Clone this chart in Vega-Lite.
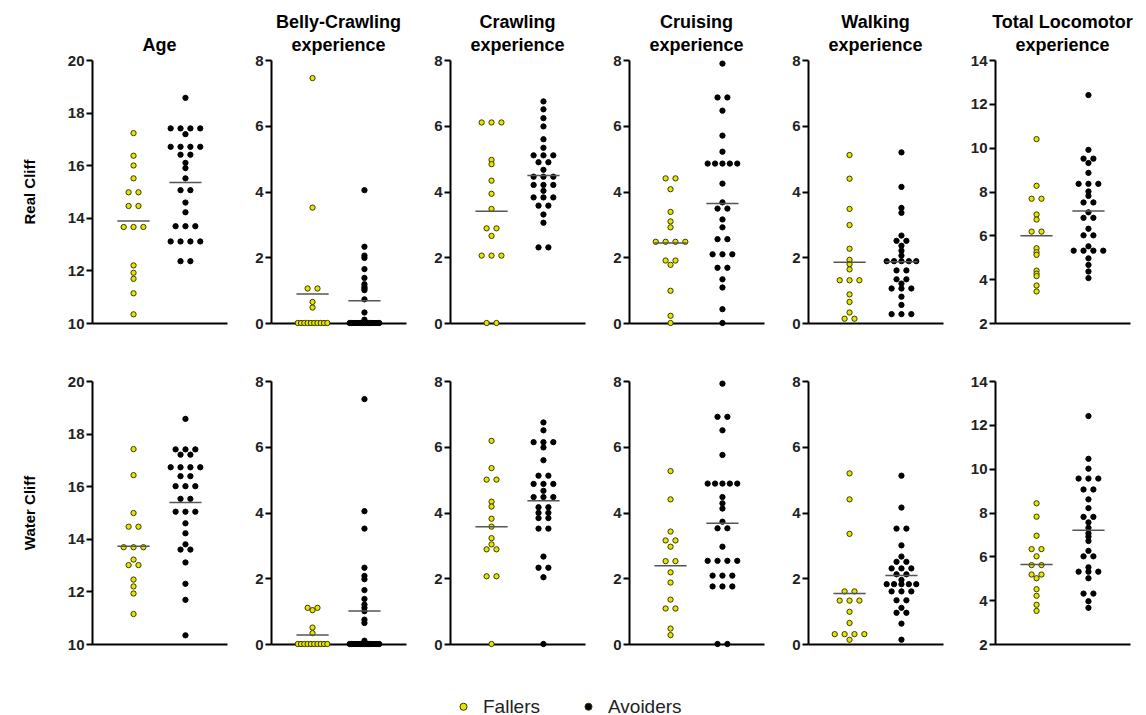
{
"$schema":"https://vega.github.io/schema/vega-lite/v6.json",
"padding":{"left":22,"top":14,"right":10,"bottom":5},
"datasets":{"obs":[
{"cliff":"Real","measure":"Age","group":"Fallers","value":17.22},
{"cliff":"Real","measure":"Age","group":"Fallers","value":16.36},
{"cliff":"Real","measure":"Age","group":"Fallers","value":15.99},
{"cliff":"Real","measure":"Age","group":"Fallers","value":15.5},
{"cliff":"Real","measure":"Age","group":"Fallers","value":14.97},
{"cliff":"Real","measure":"Age","group":"Fallers","value":14.97},
{"cliff":"Real","measure":"Age","group":"Fallers","value":14.45},
{"cliff":"Real","measure":"Age","group":"Fallers","value":14.45},
{"cliff":"Real","measure":"Age","group":"Fallers","value":13.65},
{"cliff":"Real","measure":"Age","group":"Fallers","value":13.65},
{"cliff":"Real","measure":"Age","group":"Fallers","value":13.65},
{"cliff":"Real","measure":"Age","group":"Fallers","value":12.19},
{"cliff":"Real","measure":"Age","group":"Fallers","value":11.91},
{"cliff":"Real","measure":"Age","group":"Fallers","value":11.68},
{"cliff":"Real","measure":"Age","group":"Fallers","value":11.13},
{"cliff":"Real","measure":"Age","group":"Fallers","value":10.33},
{"cliff":"Real","measure":"Age","group":"Avoiders","value":18.56},
{"cliff":"Real","measure":"Age","group":"Avoiders","value":17.4},
{"cliff":"Real","measure":"Age","group":"Avoiders","value":17.4},
{"cliff":"Real","measure":"Age","group":"Avoiders","value":17.4},
{"cliff":"Real","measure":"Age","group":"Avoiders","value":17.4},
{"cliff":"Real","measure":"Age","group":"Avoiders","value":17.18},
{"cliff":"Real","measure":"Age","group":"Avoiders","value":16.7},
{"cliff":"Real","measure":"Age","group":"Avoiders","value":16.7},
{"cliff":"Real","measure":"Age","group":"Avoiders","value":16.7},
{"cliff":"Real","measure":"Age","group":"Avoiders","value":16.7},
{"cliff":"Real","measure":"Age","group":"Avoiders","value":16.4},
{"cliff":"Real","measure":"Age","group":"Avoiders","value":16.4},
{"cliff":"Real","measure":"Age","group":"Avoiders","value":16.09},
{"cliff":"Real","measure":"Age","group":"Avoiders","value":15.89},
{"cliff":"Real","measure":"Age","group":"Avoiders","value":15.5},
{"cliff":"Real","measure":"Age","group":"Avoiders","value":15.05},
{"cliff":"Real","measure":"Age","group":"Avoiders","value":15.05},
{"cliff":"Real","measure":"Age","group":"Avoiders","value":14.58},
{"cliff":"Real","measure":"Age","group":"Avoiders","value":14.21},
{"cliff":"Real","measure":"Age","group":"Avoiders","value":13.68},
{"cliff":"Real","measure":"Age","group":"Avoiders","value":13.68},
{"cliff":"Real","measure":"Age","group":"Avoiders","value":13.68},
{"cliff":"Real","measure":"Age","group":"Avoiders","value":13.1},
{"cliff":"Real","measure":"Age","group":"Avoiders","value":13.1},
{"cliff":"Real","measure":"Age","group":"Avoiders","value":13.1},
{"cliff":"Real","measure":"Age","group":"Avoiders","value":13.1},
{"cliff":"Real","measure":"Age","group":"Avoiders","value":12.35},
{"cliff":"Real","measure":"Age","group":"Avoiders","value":12.35},
{"cliff":"Real","measure":"Belly","group":"Fallers","value":7.45},
{"cliff":"Real","measure":"Belly","group":"Fallers","value":3.51},
{"cliff":"Real","measure":"Belly","group":"Fallers","value":1.05},
{"cliff":"Real","measure":"Belly","group":"Fallers","value":1.05},
{"cliff":"Real","measure":"Belly","group":"Fallers","value":0.64},
{"cliff":"Real","measure":"Belly","group":"Fallers","value":0.47},
{"cliff":"Real","measure":"Belly","group":"Fallers","value":0},
{"cliff":"Real","measure":"Belly","group":"Fallers","value":0},
{"cliff":"Real","measure":"Belly","group":"Fallers","value":0},
{"cliff":"Real","measure":"Belly","group":"Fallers","value":0},
{"cliff":"Real","measure":"Belly","group":"Fallers","value":0},
{"cliff":"Real","measure":"Belly","group":"Fallers","value":0},
{"cliff":"Real","measure":"Belly","group":"Fallers","value":0},
{"cliff":"Real","measure":"Belly","group":"Fallers","value":0},
{"cliff":"Real","measure":"Belly","group":"Fallers","value":0},
{"cliff":"Real","measure":"Belly","group":"Fallers","value":0},
{"cliff":"Real","measure":"Belly","group":"Avoiders","value":4.04},
{"cliff":"Real","measure":"Belly","group":"Avoiders","value":2.32},
{"cliff":"Real","measure":"Belly","group":"Avoiders","value":2.05},
{"cliff":"Real","measure":"Belly","group":"Avoiders","value":1.98},
{"cliff":"Real","measure":"Belly","group":"Avoiders","value":1.64},
{"cliff":"Real","measure":"Belly","group":"Avoiders","value":1.37},
{"cliff":"Real","measure":"Belly","group":"Avoiders","value":1.18},
{"cliff":"Real","measure":"Belly","group":"Avoiders","value":1.1},
{"cliff":"Real","measure":"Belly","group":"Avoiders","value":1.05},
{"cliff":"Real","measure":"Belly","group":"Avoiders","value":1.0},
{"cliff":"Real","measure":"Belly","group":"Avoiders","value":0.72},
{"cliff":"Real","measure":"Belly","group":"Avoiders","value":0.32},
{"cliff":"Real","measure":"Belly","group":"Avoiders","value":0.1},
{"cliff":"Real","measure":"Belly","group":"Avoiders","value":0},
{"cliff":"Real","measure":"Belly","group":"Avoiders","value":0},
{"cliff":"Real","measure":"Belly","group":"Avoiders","value":0},
{"cliff":"Real","measure":"Belly","group":"Avoiders","value":0},
{"cliff":"Real","measure":"Belly","group":"Avoiders","value":0},
{"cliff":"Real","measure":"Belly","group":"Avoiders","value":0},
{"cliff":"Real","measure":"Belly","group":"Avoiders","value":0},
{"cliff":"Real","measure":"Belly","group":"Avoiders","value":0},
{"cliff":"Real","measure":"Belly","group":"Avoiders","value":0},
{"cliff":"Real","measure":"Belly","group":"Avoiders","value":0},
{"cliff":"Real","measure":"Belly","group":"Avoiders","value":0},
{"cliff":"Real","measure":"Belly","group":"Avoiders","value":0},
{"cliff":"Real","measure":"Belly","group":"Avoiders","value":0},
{"cliff":"Real","measure":"Belly","group":"Avoiders","value":0},
{"cliff":"Real","measure":"Belly","group":"Avoiders","value":0},
{"cliff":"Real","measure":"Crawling","group":"Fallers","value":6.1},
{"cliff":"Real","measure":"Crawling","group":"Fallers","value":6.1},
{"cliff":"Real","measure":"Crawling","group":"Fallers","value":6.1},
{"cliff":"Real","measure":"Crawling","group":"Fallers","value":4.96},
{"cliff":"Real","measure":"Crawling","group":"Fallers","value":4.83},
{"cliff":"Real","measure":"Crawling","group":"Fallers","value":4.33},
{"cliff":"Real","measure":"Crawling","group":"Fallers","value":3.93},
{"cliff":"Real","measure":"Crawling","group":"Fallers","value":3.47},
{"cliff":"Real","measure":"Crawling","group":"Fallers","value":2.88},
{"cliff":"Real","measure":"Crawling","group":"Fallers","value":2.88},
{"cliff":"Real","measure":"Crawling","group":"Fallers","value":2.65},
{"cliff":"Real","measure":"Crawling","group":"Fallers","value":2.05},
{"cliff":"Real","measure":"Crawling","group":"Fallers","value":2.05},
{"cliff":"Real","measure":"Crawling","group":"Fallers","value":2.05},
{"cliff":"Real","measure":"Crawling","group":"Fallers","value":0},
{"cliff":"Real","measure":"Crawling","group":"Fallers","value":0},
{"cliff":"Real","measure":"Crawling","group":"Avoiders","value":6.74},
{"cliff":"Real","measure":"Crawling","group":"Avoiders","value":6.5},
{"cliff":"Real","measure":"Crawling","group":"Avoiders","value":6.23},
{"cliff":"Real","measure":"Crawling","group":"Avoiders","value":5.98},
{"cliff":"Real","measure":"Crawling","group":"Avoiders","value":5.59},
{"cliff":"Real","measure":"Crawling","group":"Avoiders","value":5.33},
{"cliff":"Real","measure":"Crawling","group":"Avoiders","value":5.1},
{"cliff":"Real","measure":"Crawling","group":"Avoiders","value":5.1},
{"cliff":"Real","measure":"Crawling","group":"Avoiders","value":5.1},
{"cliff":"Real","measure":"Crawling","group":"Avoiders","value":4.89},
{"cliff":"Real","measure":"Crawling","group":"Avoiders","value":4.89},
{"cliff":"Real","measure":"Crawling","group":"Avoiders","value":4.66},
{"cliff":"Real","measure":"Crawling","group":"Avoiders","value":4.45},
{"cliff":"Real","measure":"Crawling","group":"Avoiders","value":4.45},
{"cliff":"Real","measure":"Crawling","group":"Avoiders","value":4.45},
{"cliff":"Real","measure":"Crawling","group":"Avoiders","value":4.2},
{"cliff":"Real","measure":"Crawling","group":"Avoiders","value":4.2},
{"cliff":"Real","measure":"Crawling","group":"Avoiders","value":4.2},
{"cliff":"Real","measure":"Crawling","group":"Avoiders","value":4.02},
{"cliff":"Real","measure":"Crawling","group":"Avoiders","value":3.82},
{"cliff":"Real","measure":"Crawling","group":"Avoiders","value":3.82},
{"cliff":"Real","measure":"Crawling","group":"Avoiders","value":3.82},
{"cliff":"Real","measure":"Crawling","group":"Avoiders","value":3.57},
{"cliff":"Real","measure":"Crawling","group":"Avoiders","value":3.57},
{"cliff":"Real","measure":"Crawling","group":"Avoiders","value":3.3},
{"cliff":"Real","measure":"Crawling","group":"Avoiders","value":3.05},
{"cliff":"Real","measure":"Crawling","group":"Avoiders","value":2.3},
{"cliff":"Real","measure":"Crawling","group":"Avoiders","value":2.3},
{"cliff":"Real","measure":"Cruising","group":"Fallers","value":4.4},
{"cliff":"Real","measure":"Cruising","group":"Fallers","value":4.4},
{"cliff":"Real","measure":"Cruising","group":"Fallers","value":4.07},
{"cliff":"Real","measure":"Cruising","group":"Fallers","value":3.38},
{"cliff":"Real","measure":"Cruising","group":"Fallers","value":3.09},
{"cliff":"Real","measure":"Cruising","group":"Fallers","value":2.91},
{"cliff":"Real","measure":"Cruising","group":"Fallers","value":2.47},
{"cliff":"Real","measure":"Cruising","group":"Fallers","value":2.47},
{"cliff":"Real","measure":"Cruising","group":"Fallers","value":2.47},
{"cliff":"Real","measure":"Cruising","group":"Fallers","value":2.47},
{"cliff":"Real","measure":"Cruising","group":"Fallers","value":1.9},
{"cliff":"Real","measure":"Cruising","group":"Fallers","value":1.9},
{"cliff":"Real","measure":"Cruising","group":"Fallers","value":1.77},
{"cliff":"Real","measure":"Cruising","group":"Fallers","value":0.98},
{"cliff":"Real","measure":"Cruising","group":"Fallers","value":0.22},
{"cliff":"Real","measure":"Cruising","group":"Fallers","value":0},
{"cliff":"Real","measure":"Cruising","group":"Avoiders","value":7.89},
{"cliff":"Real","measure":"Cruising","group":"Avoiders","value":6.86},
{"cliff":"Real","measure":"Cruising","group":"Avoiders","value":6.86},
{"cliff":"Real","measure":"Cruising","group":"Avoiders","value":6.46},
{"cliff":"Real","measure":"Cruising","group":"Avoiders","value":5.7},
{"cliff":"Real","measure":"Cruising","group":"Avoiders","value":5.21},
{"cliff":"Real","measure":"Cruising","group":"Avoiders","value":4.85},
{"cliff":"Real","measure":"Cruising","group":"Avoiders","value":4.85},
{"cliff":"Real","measure":"Cruising","group":"Avoiders","value":4.85},
{"cliff":"Real","measure":"Cruising","group":"Avoiders","value":4.85},
{"cliff":"Real","measure":"Cruising","group":"Avoiders","value":4.85},
{"cliff":"Real","measure":"Cruising","group":"Avoiders","value":4.24},
{"cliff":"Real","measure":"Cruising","group":"Avoiders","value":3.67},
{"cliff":"Real","measure":"Cruising","group":"Avoiders","value":3.48},
{"cliff":"Real","measure":"Cruising","group":"Avoiders","value":3.48},
{"cliff":"Real","measure":"Cruising","group":"Avoiders","value":3.15},
{"cliff":"Real","measure":"Cruising","group":"Avoiders","value":2.91},
{"cliff":"Real","measure":"Cruising","group":"Avoiders","value":2.55},
{"cliff":"Real","measure":"Cruising","group":"Avoiders","value":2.55},
{"cliff":"Real","measure":"Cruising","group":"Avoiders","value":2.09},
{"cliff":"Real","measure":"Cruising","group":"Avoiders","value":2.09},
{"cliff":"Real","measure":"Cruising","group":"Avoiders","value":2.09},
{"cliff":"Real","measure":"Cruising","group":"Avoiders","value":1.68},
{"cliff":"Real","measure":"Cruising","group":"Avoiders","value":1.68},
{"cliff":"Real","measure":"Cruising","group":"Avoiders","value":1.33},
{"cliff":"Real","measure":"Cruising","group":"Avoiders","value":1.08},
{"cliff":"Real","measure":"Cruising","group":"Avoiders","value":0.42},
{"cliff":"Real","measure":"Cruising","group":"Avoiders","value":0},
{"cliff":"Real","measure":"Walking","group":"Fallers","value":5.11},
{"cliff":"Real","measure":"Walking","group":"Fallers","value":4.39},
{"cliff":"Real","measure":"Walking","group":"Fallers","value":3.47},
{"cliff":"Real","measure":"Walking","group":"Fallers","value":2.98},
{"cliff":"Real","measure":"Walking","group":"Fallers","value":2.26},
{"cliff":"Real","measure":"Walking","group":"Fallers","value":1.92},
{"cliff":"Real","measure":"Walking","group":"Fallers","value":1.79},
{"cliff":"Real","measure":"Walking","group":"Fallers","value":1.63},
{"cliff":"Real","measure":"Walking","group":"Fallers","value":1.3},
{"cliff":"Real","measure":"Walking","group":"Fallers","value":1.3},
{"cliff":"Real","measure":"Walking","group":"Fallers","value":1.3},
{"cliff":"Real","measure":"Walking","group":"Fallers","value":0.87},
{"cliff":"Real","measure":"Walking","group":"Fallers","value":0.64},
{"cliff":"Real","measure":"Walking","group":"Fallers","value":0.32},
{"cliff":"Real","measure":"Walking","group":"Fallers","value":0.13},
{"cliff":"Real","measure":"Walking","group":"Fallers","value":0.13},
{"cliff":"Real","measure":"Walking","group":"Avoiders","value":5.19},
{"cliff":"Real","measure":"Walking","group":"Avoiders","value":4.14},
{"cliff":"Real","measure":"Walking","group":"Avoiders","value":3.5},
{"cliff":"Real","measure":"Walking","group":"Avoiders","value":3.35},
{"cliff":"Real","measure":"Walking","group":"Avoiders","value":2.66},
{"cliff":"Real","measure":"Walking","group":"Avoiders","value":2.5},
{"cliff":"Real","measure":"Walking","group":"Avoiders","value":2.5},
{"cliff":"Real","measure":"Walking","group":"Avoiders","value":2.35},
{"cliff":"Real","measure":"Walking","group":"Avoiders","value":2.2},
{"cliff":"Real","measure":"Walking","group":"Avoiders","value":2.05},
{"cliff":"Real","measure":"Walking","group":"Avoiders","value":1.88},
{"cliff":"Real","measure":"Walking","group":"Avoiders","value":1.88},
{"cliff":"Real","measure":"Walking","group":"Avoiders","value":1.88},
{"cliff":"Real","measure":"Walking","group":"Avoiders","value":1.88},
{"cliff":"Real","measure":"Walking","group":"Avoiders","value":1.88},
{"cliff":"Real","measure":"Walking","group":"Avoiders","value":1.6},
{"cliff":"Real","measure":"Walking","group":"Avoiders","value":1.6},
{"cliff":"Real","measure":"Walking","group":"Avoiders","value":1.33},
{"cliff":"Real","measure":"Walking","group":"Avoiders","value":1.33},
{"cliff":"Real","measure":"Walking","group":"Avoiders","value":1.2},
{"cliff":"Real","measure":"Walking","group":"Avoiders","value":1.05},
{"cliff":"Real","measure":"Walking","group":"Avoiders","value":1.05},
{"cliff":"Real","measure":"Walking","group":"Avoiders","value":1.05},
{"cliff":"Real","measure":"Walking","group":"Avoiders","value":0.8},
{"cliff":"Real","measure":"Walking","group":"Avoiders","value":0.55},
{"cliff":"Real","measure":"Walking","group":"Avoiders","value":0.27},
{"cliff":"Real","measure":"Walking","group":"Avoiders","value":0.27},
{"cliff":"Real","measure":"Walking","group":"Avoiders","value":0.27},
{"cliff":"Real","measure":"Total","group":"Fallers","value":10.39},
{"cliff":"Real","measure":"Total","group":"Fallers","value":8.26},
{"cliff":"Real","measure":"Total","group":"Fallers","value":7.67},
{"cliff":"Real","measure":"Total","group":"Fallers","value":7.67},
{"cliff":"Real","measure":"Total","group":"Fallers","value":6.95},
{"cliff":"Real","measure":"Total","group":"Fallers","value":6.72},
{"cliff":"Real","measure":"Total","group":"Fallers","value":6.17},
{"cliff":"Real","measure":"Total","group":"Fallers","value":6.17},
{"cliff":"Real","measure":"Total","group":"Fallers","value":5.41},
{"cliff":"Real","measure":"Total","group":"Fallers","value":5.23},
{"cliff":"Real","measure":"Total","group":"Fallers","value":5.11},
{"cliff":"Real","measure":"Total","group":"Fallers","value":4.39},
{"cliff":"Real","measure":"Total","group":"Fallers","value":4.25},
{"cliff":"Real","measure":"Total","group":"Fallers","value":4.14},
{"cliff":"Real","measure":"Total","group":"Fallers","value":3.71},
{"cliff":"Real","measure":"Total","group":"Fallers","value":3.44},
{"cliff":"Real","measure":"Total","group":"Avoiders","value":12.4},
{"cliff":"Real","measure":"Total","group":"Avoiders","value":9.9},
{"cliff":"Real","measure":"Total","group":"Avoiders","value":9.5},
{"cliff":"Real","measure":"Total","group":"Avoiders","value":9.5},
{"cliff":"Real","measure":"Total","group":"Avoiders","value":9.3},
{"cliff":"Real","measure":"Total","group":"Avoiders","value":8.85},
{"cliff":"Real","measure":"Total","group":"Avoiders","value":8.35},
{"cliff":"Real","measure":"Total","group":"Avoiders","value":8.35},
{"cliff":"Real","measure":"Total","group":"Avoiders","value":8.35},
{"cliff":"Real","measure":"Total","group":"Avoiders","value":8.0},
{"cliff":"Real","measure":"Total","group":"Avoiders","value":7.8},
{"cliff":"Real","measure":"Total","group":"Avoiders","value":7.5},
{"cliff":"Real","measure":"Total","group":"Avoiders","value":7.5},
{"cliff":"Real","measure":"Total","group":"Avoiders","value":7.05},
{"cliff":"Real","measure":"Total","group":"Avoiders","value":6.8},
{"cliff":"Real","measure":"Total","group":"Avoiders","value":6.8},
{"cliff":"Real","measure":"Total","group":"Avoiders","value":6.3},
{"cliff":"Real","measure":"Total","group":"Avoiders","value":6.0},
{"cliff":"Real","measure":"Total","group":"Avoiders","value":6.0},
{"cliff":"Real","measure":"Total","group":"Avoiders","value":5.5},
{"cliff":"Real","measure":"Total","group":"Avoiders","value":5.3},
{"cliff":"Real","measure":"Total","group":"Avoiders","value":5.3},
{"cliff":"Real","measure":"Total","group":"Avoiders","value":5.3},
{"cliff":"Real","measure":"Total","group":"Avoiders","value":5.3},
{"cliff":"Real","measure":"Total","group":"Avoiders","value":4.95},
{"cliff":"Real","measure":"Total","group":"Avoiders","value":4.65},
{"cliff":"Real","measure":"Total","group":"Avoiders","value":4.35},
{"cliff":"Real","measure":"Total","group":"Avoiders","value":4.05},
{"cliff":"Water","measure":"Age","group":"Fallers","value":17.41},
{"cliff":"Water","measure":"Age","group":"Fallers","value":16.42},
{"cliff":"Water","measure":"Age","group":"Fallers","value":14.98},
{"cliff":"Water","measure":"Age","group":"Fallers","value":14.46},
{"cliff":"Water","measure":"Age","group":"Fallers","value":14.46},
{"cliff":"Water","measure":"Age","group":"Fallers","value":13.68},
{"cliff":"Water","measure":"Age","group":"Fallers","value":13.68},
{"cliff":"Water","measure":"Age","group":"Fallers","value":13.68},
{"cliff":"Water","measure":"Age","group":"Fallers","value":13.21},
{"cliff":"Water","measure":"Age","group":"Fallers","value":13.0},
{"cliff":"Water","measure":"Age","group":"Fallers","value":13.0},
{"cliff":"Water","measure":"Age","group":"Fallers","value":12.45},
{"cliff":"Water","measure":"Age","group":"Fallers","value":12.19},
{"cliff":"Water","measure":"Age","group":"Fallers","value":11.92},
{"cliff":"Water","measure":"Age","group":"Fallers","value":11.14},
{"cliff":"Water","measure":"Age","group":"Avoiders","value":18.56},
{"cliff":"Water","measure":"Age","group":"Avoiders","value":17.4},
{"cliff":"Water","measure":"Age","group":"Avoiders","value":17.4},
{"cliff":"Water","measure":"Age","group":"Avoiders","value":17.4},
{"cliff":"Water","measure":"Age","group":"Avoiders","value":17.2},
{"cliff":"Water","measure":"Age","group":"Avoiders","value":17.2},
{"cliff":"Water","measure":"Age","group":"Avoiders","value":16.72},
{"cliff":"Water","measure":"Age","group":"Avoiders","value":16.72},
{"cliff":"Water","measure":"Age","group":"Avoiders","value":16.72},
{"cliff":"Water","measure":"Age","group":"Avoiders","value":16.72},
{"cliff":"Water","measure":"Age","group":"Avoiders","value":16.38},
{"cliff":"Water","measure":"Age","group":"Avoiders","value":16.38},
{"cliff":"Water","measure":"Age","group":"Avoiders","value":16.0},
{"cliff":"Water","measure":"Age","group":"Avoiders","value":16.0},
{"cliff":"Water","measure":"Age","group":"Avoiders","value":16.0},
{"cliff":"Water","measure":"Age","group":"Avoiders","value":15.52},
{"cliff":"Water","measure":"Age","group":"Avoiders","value":15.52},
{"cliff":"Water","measure":"Age","group":"Avoiders","value":15.03},
{"cliff":"Water","measure":"Age","group":"Avoiders","value":15.03},
{"cliff":"Water","measure":"Age","group":"Avoiders","value":15.03},
{"cliff":"Water","measure":"Age","group":"Avoiders","value":14.59},
{"cliff":"Water","measure":"Age","group":"Avoiders","value":14.21},
{"cliff":"Water","measure":"Age","group":"Avoiders","value":13.79},
{"cliff":"Water","measure":"Age","group":"Avoiders","value":13.59},
{"cliff":"Water","measure":"Age","group":"Avoiders","value":13.59},
{"cliff":"Water","measure":"Age","group":"Avoiders","value":13.1},
{"cliff":"Water","measure":"Age","group":"Avoiders","value":12.29},
{"cliff":"Water","measure":"Age","group":"Avoiders","value":11.68},
{"cliff":"Water","measure":"Age","group":"Avoiders","value":10.33},
{"cliff":"Water","measure":"Belly","group":"Fallers","value":1.1},
{"cliff":"Water","measure":"Belly","group":"Fallers","value":1.1},
{"cliff":"Water","measure":"Belly","group":"Fallers","value":1.03},
{"cliff":"Water","measure":"Belly","group":"Fallers","value":0.5},
{"cliff":"Water","measure":"Belly","group":"Fallers","value":0.33},
{"cliff":"Water","measure":"Belly","group":"Fallers","value":0},
{"cliff":"Water","measure":"Belly","group":"Fallers","value":0},
{"cliff":"Water","measure":"Belly","group":"Fallers","value":0},
{"cliff":"Water","measure":"Belly","group":"Fallers","value":0},
{"cliff":"Water","measure":"Belly","group":"Fallers","value":0},
{"cliff":"Water","measure":"Belly","group":"Fallers","value":0},
{"cliff":"Water","measure":"Belly","group":"Fallers","value":0},
{"cliff":"Water","measure":"Belly","group":"Fallers","value":0},
{"cliff":"Water","measure":"Belly","group":"Fallers","value":0},
{"cliff":"Water","measure":"Belly","group":"Fallers","value":0},
{"cliff":"Water","measure":"Belly","group":"Avoiders","value":7.45},
{"cliff":"Water","measure":"Belly","group":"Avoiders","value":4.04},
{"cliff":"Water","measure":"Belly","group":"Avoiders","value":3.51},
{"cliff":"Water","measure":"Belly","group":"Avoiders","value":2.32},
{"cliff":"Water","measure":"Belly","group":"Avoiders","value":2.07},
{"cliff":"Water","measure":"Belly","group":"Avoiders","value":1.97},
{"cliff":"Water","measure":"Belly","group":"Avoiders","value":1.64},
{"cliff":"Water","measure":"Belly","group":"Avoiders","value":1.37},
{"cliff":"Water","measure":"Belly","group":"Avoiders","value":1.2},
{"cliff":"Water","measure":"Belly","group":"Avoiders","value":1.1},
{"cliff":"Water","measure":"Belly","group":"Avoiders","value":1.0},
{"cliff":"Water","measure":"Belly","group":"Avoiders","value":0.74},
{"cliff":"Water","measure":"Belly","group":"Avoiders","value":0.64},
{"cliff":"Water","measure":"Belly","group":"Avoiders","value":0.1},
{"cliff":"Water","measure":"Belly","group":"Avoiders","value":0},
{"cliff":"Water","measure":"Belly","group":"Avoiders","value":0},
{"cliff":"Water","measure":"Belly","group":"Avoiders","value":0},
{"cliff":"Water","measure":"Belly","group":"Avoiders","value":0},
{"cliff":"Water","measure":"Belly","group":"Avoiders","value":0},
{"cliff":"Water","measure":"Belly","group":"Avoiders","value":0},
{"cliff":"Water","measure":"Belly","group":"Avoiders","value":0},
{"cliff":"Water","measure":"Belly","group":"Avoiders","value":0},
{"cliff":"Water","measure":"Belly","group":"Avoiders","value":0},
{"cliff":"Water","measure":"Belly","group":"Avoiders","value":0},
{"cliff":"Water","measure":"Belly","group":"Avoiders","value":0},
{"cliff":"Water","measure":"Belly","group":"Avoiders","value":0},
{"cliff":"Water","measure":"Belly","group":"Avoiders","value":0},
{"cliff":"Water","measure":"Belly","group":"Avoiders","value":0},
{"cliff":"Water","measure":"Belly","group":"Avoiders","value":0},
{"cliff":"Water","measure":"Crawling","group":"Fallers","value":6.18},
{"cliff":"Water","measure":"Crawling","group":"Fallers","value":5.35},
{"cliff":"Water","measure":"Crawling","group":"Fallers","value":5.0},
{"cliff":"Water","measure":"Crawling","group":"Fallers","value":5.0},
{"cliff":"Water","measure":"Crawling","group":"Fallers","value":4.33},
{"cliff":"Water","measure":"Crawling","group":"Fallers","value":4.18},
{"cliff":"Water","measure":"Crawling","group":"Fallers","value":3.81},
{"cliff":"Water","measure":"Crawling","group":"Fallers","value":3.57},
{"cliff":"Water","measure":"Crawling","group":"Fallers","value":3.22},
{"cliff":"Water","measure":"Crawling","group":"Fallers","value":3.03},
{"cliff":"Water","measure":"Crawling","group":"Fallers","value":2.88},
{"cliff":"Water","measure":"Crawling","group":"Fallers","value":2.88},
{"cliff":"Water","measure":"Crawling","group":"Fallers","value":2.06},
{"cliff":"Water","measure":"Crawling","group":"Fallers","value":2.06},
{"cliff":"Water","measure":"Crawling","group":"Fallers","value":0},
{"cliff":"Water","measure":"Crawling","group":"Avoiders","value":6.74},
{"cliff":"Water","measure":"Crawling","group":"Avoiders","value":6.5},
{"cliff":"Water","measure":"Crawling","group":"Avoiders","value":6.14},
{"cliff":"Water","measure":"Crawling","group":"Avoiders","value":6.14},
{"cliff":"Water","measure":"Crawling","group":"Avoiders","value":6.14},
{"cliff":"Water","measure":"Crawling","group":"Avoiders","value":5.98},
{"cliff":"Water","measure":"Crawling","group":"Avoiders","value":5.59},
{"cliff":"Water","measure":"Crawling","group":"Avoiders","value":5.12},
{"cliff":"Water","measure":"Crawling","group":"Avoiders","value":5.12},
{"cliff":"Water","measure":"Crawling","group":"Avoiders","value":4.87},
{"cliff":"Water","measure":"Crawling","group":"Avoiders","value":4.87},
{"cliff":"Water","measure":"Crawling","group":"Avoiders","value":4.87},
{"cliff":"Water","measure":"Crawling","group":"Avoiders","value":4.66},
{"cliff":"Water","measure":"Crawling","group":"Avoiders","value":4.47},
{"cliff":"Water","measure":"Crawling","group":"Avoiders","value":4.47},
{"cliff":"Water","measure":"Crawling","group":"Avoiders","value":4.47},
{"cliff":"Water","measure":"Crawling","group":"Avoiders","value":4.16},
{"cliff":"Water","measure":"Crawling","group":"Avoiders","value":4.16},
{"cliff":"Water","measure":"Crawling","group":"Avoiders","value":3.99},
{"cliff":"Water","measure":"Crawling","group":"Avoiders","value":3.99},
{"cliff":"Water","measure":"Crawling","group":"Avoiders","value":3.83},
{"cliff":"Water","measure":"Crawling","group":"Avoiders","value":3.83},
{"cliff":"Water","measure":"Crawling","group":"Avoiders","value":3.51},
{"cliff":"Water","measure":"Crawling","group":"Avoiders","value":3.51},
{"cliff":"Water","measure":"Crawling","group":"Avoiders","value":2.66},
{"cliff":"Water","measure":"Crawling","group":"Avoiders","value":2.32},
{"cliff":"Water","measure":"Crawling","group":"Avoiders","value":2.32},
{"cliff":"Water","measure":"Crawling","group":"Avoiders","value":2.03},
{"cliff":"Water","measure":"Crawling","group":"Avoiders","value":0},
{"cliff":"Water","measure":"Cruising","group":"Fallers","value":5.26},
{"cliff":"Water","measure":"Cruising","group":"Fallers","value":4.4},
{"cliff":"Water","measure":"Cruising","group":"Fallers","value":3.42},
{"cliff":"Water","measure":"Cruising","group":"Fallers","value":3.15},
{"cliff":"Water","measure":"Cruising","group":"Fallers","value":3.15},
{"cliff":"Water","measure":"Cruising","group":"Fallers","value":2.96},
{"cliff":"Water","measure":"Cruising","group":"Fallers","value":2.52},
{"cliff":"Water","measure":"Cruising","group":"Fallers","value":2.52},
{"cliff":"Water","measure":"Cruising","group":"Fallers","value":2.18},
{"cliff":"Water","measure":"Cruising","group":"Fallers","value":1.87},
{"cliff":"Water","measure":"Cruising","group":"Fallers","value":1.35},
{"cliff":"Water","measure":"Cruising","group":"Fallers","value":1.08},
{"cliff":"Water","measure":"Cruising","group":"Fallers","value":1.08},
{"cliff":"Water","measure":"Cruising","group":"Fallers","value":0.47},
{"cliff":"Water","measure":"Cruising","group":"Fallers","value":0.27},
{"cliff":"Water","measure":"Cruising","group":"Avoiders","value":7.92},
{"cliff":"Water","measure":"Cruising","group":"Avoiders","value":6.91},
{"cliff":"Water","measure":"Cruising","group":"Avoiders","value":6.91},
{"cliff":"Water","measure":"Cruising","group":"Avoiders","value":6.5},
{"cliff":"Water","measure":"Cruising","group":"Avoiders","value":5.75},
{"cliff":"Water","measure":"Cruising","group":"Avoiders","value":4.88},
{"cliff":"Water","measure":"Cruising","group":"Avoiders","value":4.88},
{"cliff":"Water","measure":"Cruising","group":"Avoiders","value":4.88},
{"cliff":"Water","measure":"Cruising","group":"Avoiders","value":4.88},
{"cliff":"Water","measure":"Cruising","group":"Avoiders","value":4.88},
{"cliff":"Water","measure":"Cruising","group":"Avoiders","value":4.47},
{"cliff":"Water","measure":"Cruising","group":"Avoiders","value":4.28},
{"cliff":"Water","measure":"Cruising","group":"Avoiders","value":4.12},
{"cliff":"Water","measure":"Cruising","group":"Avoiders","value":3.72},
{"cliff":"Water","measure":"Cruising","group":"Avoiders","value":3.52},
{"cliff":"Water","measure":"Cruising","group":"Avoiders","value":3.52},
{"cliff":"Water","measure":"Cruising","group":"Avoiders","value":2.96},
{"cliff":"Water","measure":"Cruising","group":"Avoiders","value":2.53},
{"cliff":"Water","measure":"Cruising","group":"Avoiders","value":2.53},
{"cliff":"Water","measure":"Cruising","group":"Avoiders","value":2.53},
{"cliff":"Water","measure":"Cruising","group":"Avoiders","value":2.53},
{"cliff":"Water","measure":"Cruising","group":"Avoiders","value":2.08},
{"cliff":"Water","measure":"Cruising","group":"Avoiders","value":2.08},
{"cliff":"Water","measure":"Cruising","group":"Avoiders","value":2.08},
{"cliff":"Water","measure":"Cruising","group":"Avoiders","value":1.75},
{"cliff":"Water","measure":"Cruising","group":"Avoiders","value":1.75},
{"cliff":"Water","measure":"Cruising","group":"Avoiders","value":1.75},
{"cliff":"Water","measure":"Cruising","group":"Avoiders","value":0},
{"cliff":"Water","measure":"Cruising","group":"Avoiders","value":0},
{"cliff":"Water","measure":"Walking","group":"Fallers","value":5.19},
{"cliff":"Water","measure":"Walking","group":"Fallers","value":4.4},
{"cliff":"Water","measure":"Walking","group":"Fallers","value":3.35},
{"cliff":"Water","measure":"Walking","group":"Fallers","value":1.6},
{"cliff":"Water","measure":"Walking","group":"Fallers","value":1.6},
{"cliff":"Water","measure":"Walking","group":"Fallers","value":1.32},
{"cliff":"Water","measure":"Walking","group":"Fallers","value":1.32},
{"cliff":"Water","measure":"Walking","group":"Fallers","value":1.32},
{"cliff":"Water","measure":"Walking","group":"Fallers","value":0.98},
{"cliff":"Water","measure":"Walking","group":"Fallers","value":0.64},
{"cliff":"Water","measure":"Walking","group":"Fallers","value":0.3},
{"cliff":"Water","measure":"Walking","group":"Fallers","value":0.3},
{"cliff":"Water","measure":"Walking","group":"Fallers","value":0.3},
{"cliff":"Water","measure":"Walking","group":"Fallers","value":0.3},
{"cliff":"Water","measure":"Walking","group":"Fallers","value":0.13},
{"cliff":"Water","measure":"Walking","group":"Avoiders","value":5.12},
{"cliff":"Water","measure":"Walking","group":"Avoiders","value":4.15},
{"cliff":"Water","measure":"Walking","group":"Avoiders","value":3.51},
{"cliff":"Water","measure":"Walking","group":"Avoiders","value":3.51},
{"cliff":"Water","measure":"Walking","group":"Avoiders","value":3.0},
{"cliff":"Water","measure":"Walking","group":"Avoiders","value":2.66},
{"cliff":"Water","measure":"Walking","group":"Avoiders","value":2.5},
{"cliff":"Water","measure":"Walking","group":"Avoiders","value":2.5},
{"cliff":"Water","measure":"Walking","group":"Avoiders","value":2.3},
{"cliff":"Water","measure":"Walking","group":"Avoiders","value":2.3},
{"cliff":"Water","measure":"Walking","group":"Avoiders","value":2.3},
{"cliff":"Water","measure":"Walking","group":"Avoiders","value":2.12},
{"cliff":"Water","measure":"Walking","group":"Avoiders","value":2.12},
{"cliff":"Water","measure":"Walking","group":"Avoiders","value":1.95},
{"cliff":"Water","measure":"Walking","group":"Avoiders","value":1.82},
{"cliff":"Water","measure":"Walking","group":"Avoiders","value":1.82},
{"cliff":"Water","measure":"Walking","group":"Avoiders","value":1.82},
{"cliff":"Water","measure":"Walking","group":"Avoiders","value":1.82},
{"cliff":"Water","measure":"Walking","group":"Avoiders","value":1.82},
{"cliff":"Water","measure":"Walking","group":"Avoiders","value":1.6},
{"cliff":"Water","measure":"Walking","group":"Avoiders","value":1.6},
{"cliff":"Water","measure":"Walking","group":"Avoiders","value":1.6},
{"cliff":"Water","measure":"Walking","group":"Avoiders","value":1.33},
{"cliff":"Water","measure":"Walking","group":"Avoiders","value":1.33},
{"cliff":"Water","measure":"Walking","group":"Avoiders","value":1.1},
{"cliff":"Water","measure":"Walking","group":"Avoiders","value":0.95},
{"cliff":"Water","measure":"Walking","group":"Avoiders","value":0.95},
{"cliff":"Water","measure":"Walking","group":"Avoiders","value":0.62},
{"cliff":"Water","measure":"Walking","group":"Avoiders","value":0.13},
{"cliff":"Water","measure":"Total","group":"Fallers","value":8.42},
{"cliff":"Water","measure":"Total","group":"Fallers","value":7.81},
{"cliff":"Water","measure":"Total","group":"Fallers","value":6.94},
{"cliff":"Water","measure":"Total","group":"Fallers","value":6.33},
{"cliff":"Water","measure":"Total","group":"Fallers","value":6.33},
{"cliff":"Water","measure":"Total","group":"Fallers","value":6.0},
{"cliff":"Water","measure":"Total","group":"Fallers","value":5.6},
{"cliff":"Water","measure":"Total","group":"Fallers","value":5.6},
{"cliff":"Water","measure":"Total","group":"Fallers","value":5.17},
{"cliff":"Water","measure":"Total","group":"Fallers","value":5.17},
{"cliff":"Water","measure":"Total","group":"Fallers","value":5.0},
{"cliff":"Water","measure":"Total","group":"Fallers","value":4.5},
{"cliff":"Water","measure":"Total","group":"Fallers","value":4.2},
{"cliff":"Water","measure":"Total","group":"Fallers","value":3.79},
{"cliff":"Water","measure":"Total","group":"Fallers","value":3.51},
{"cliff":"Water","measure":"Total","group":"Avoiders","value":12.4},
{"cliff":"Water","measure":"Total","group":"Avoiders","value":10.45},
{"cliff":"Water","measure":"Total","group":"Avoiders","value":10.0},
{"cliff":"Water","measure":"Total","group":"Avoiders","value":9.55},
{"cliff":"Water","measure":"Total","group":"Avoiders","value":9.55},
{"cliff":"Water","measure":"Total","group":"Avoiders","value":9.55},
{"cliff":"Water","measure":"Total","group":"Avoiders","value":9.05},
{"cliff":"Water","measure":"Total","group":"Avoiders","value":9.05},
{"cliff":"Water","measure":"Total","group":"Avoiders","value":8.6},
{"cliff":"Water","measure":"Total","group":"Avoiders","value":8.2},
{"cliff":"Water","measure":"Total","group":"Avoiders","value":7.8},
{"cliff":"Water","measure":"Total","group":"Avoiders","value":7.8},
{"cliff":"Water","measure":"Total","group":"Avoiders","value":7.55},
{"cliff":"Water","measure":"Total","group":"Avoiders","value":7.3},
{"cliff":"Water","measure":"Total","group":"Avoiders","value":7.05},
{"cliff":"Water","measure":"Total","group":"Avoiders","value":6.9},
{"cliff":"Water","measure":"Total","group":"Avoiders","value":6.7},
{"cliff":"Water","measure":"Total","group":"Avoiders","value":6.25},
{"cliff":"Water","measure":"Total","group":"Avoiders","value":6.0},
{"cliff":"Water","measure":"Total","group":"Avoiders","value":6.0},
{"cliff":"Water","measure":"Total","group":"Avoiders","value":5.5},
{"cliff":"Water","measure":"Total","group":"Avoiders","value":5.3},
{"cliff":"Water","measure":"Total","group":"Avoiders","value":5.3},
{"cliff":"Water","measure":"Total","group":"Avoiders","value":5.3},
{"cliff":"Water","measure":"Total","group":"Avoiders","value":5.0},
{"cliff":"Water","measure":"Total","group":"Avoiders","value":4.3},
{"cliff":"Water","measure":"Total","group":"Avoiders","value":4.3},
{"cliff":"Water","measure":"Total","group":"Avoiders","value":3.95},
{"cliff":"Water","measure":"Total","group":"Avoiders","value":3.65}
]},
"data":{"name":"obs"},
"transform":[
{"joinaggregate":[{"op":"count","as":"n"}],"groupby":["cliff","measure","group","value"]},
{"window":[{"op":"row_number","as":"r"}],"groupby":["cliff","measure","group","value"]},
{"calculate":"(datum.group==='Fallers'?0:1)+(datum.r-(datum.n+1)/2)*min(0.19,0.57/max(1,datum.n-1))","as":"xp"}
],
"columns":6,
"align":"each",
"spacing":{"row":43,"column":27},
"concat":[
{"width":135,"height":263,"title":{"text":"Age"},"layer":[
{"transform":[{"filter":"datum.cliff==='Real' && datum.measure==='Age'"}],"mark":{"type":"circle","opacity":1,"size":28,"strokeWidth":1},
"encoding":{"x":{"field":"xp","type":"quantitative","title":null,"scale":{"domain":[-0.63,1.63]}},
"y":{"field":"value","type":"quantitative","scale":{"domain":[10,20],"nice":false,"zero":false},"axis":{"values":[10,12,14,16,18,20],"title":"Real Cliff"}},
"fill":{"field":"group","type":"nominal","scale":{"domain":["Fallers","Avoiders"],"range":["#e5e500","#000000"]},"legend":{"title":null,"orient":"none","legendX":362,"legendY":637}},
"stroke":{"condition":{"test":"datum.group==='Fallers'","value":"#3a3a00"},"value":"#000000"}}},
{"transform":[{"filter":"datum.cliff==='Real' && datum.measure==='Age'"},{"aggregate":[{"op":"mean","field":"value","as":"mean"}],"groupby":["group"]},{"calculate":"(datum.group==='Fallers'?0:1)-0.31","as":"x1"},{"calculate":"(datum.group==='Fallers'?0:1)+0.31","as":"x2"}],
"mark":{"type":"rule","color":"#555555","strokeWidth":1.5},
"encoding":{"x":{"field":"x1","type":"quantitative"},"x2":{"field":"x2"},"y":{"field":"mean","type":"quantitative"}}}
]},
{"width":135,"height":263,"title":{"text":["Belly-Crawling","experience"]},"layer":[
{"transform":[{"filter":"datum.cliff==='Real' && datum.measure==='Belly'"}],"mark":{"type":"circle","opacity":1,"size":28,"strokeWidth":1},
"encoding":{"x":{"field":"xp","type":"quantitative","title":null,"scale":{"domain":[-0.63,1.63]}},
"y":{"field":"value","type":"quantitative","scale":{"domain":[0,8],"nice":false},"axis":{"values":[0,2,4,6,8],"title":null}},
"fill":{"field":"group","type":"nominal","scale":{"domain":["Fallers","Avoiders"],"range":["#e5e500","#000000"]},"legend":{"title":null,"orient":"none","legendX":362,"legendY":637}},
"stroke":{"condition":{"test":"datum.group==='Fallers'","value":"#3a3a00"},"value":"#000000"}}},
{"transform":[{"filter":"datum.cliff==='Real' && datum.measure==='Belly'"},{"aggregate":[{"op":"mean","field":"value","as":"mean"}],"groupby":["group"]},{"calculate":"(datum.group==='Fallers'?0:1)-0.31","as":"x1"},{"calculate":"(datum.group==='Fallers'?0:1)+0.31","as":"x2"}],
"mark":{"type":"rule","color":"#555555","strokeWidth":1.5},
"encoding":{"x":{"field":"x1","type":"quantitative"},"x2":{"field":"x2"},"y":{"field":"mean","type":"quantitative"}}}
]},
{"width":135,"height":263,"title":{"text":["Crawling","experience"]},"layer":[
{"transform":[{"filter":"datum.cliff==='Real' && datum.measure==='Crawling'"}],"mark":{"type":"circle","opacity":1,"size":28,"strokeWidth":1},
"encoding":{"x":{"field":"xp","type":"quantitative","title":null,"scale":{"domain":[-0.63,1.63]}},
"y":{"field":"value","type":"quantitative","scale":{"domain":[0,8],"nice":false},"axis":{"values":[0,2,4,6,8],"title":null}},
"fill":{"field":"group","type":"nominal","scale":{"domain":["Fallers","Avoiders"],"range":["#e5e500","#000000"]},"legend":{"title":null,"orient":"none","legendX":362,"legendY":637}},
"stroke":{"condition":{"test":"datum.group==='Fallers'","value":"#3a3a00"},"value":"#000000"}}},
{"transform":[{"filter":"datum.cliff==='Real' && datum.measure==='Crawling'"},{"aggregate":[{"op":"mean","field":"value","as":"mean"}],"groupby":["group"]},{"calculate":"(datum.group==='Fallers'?0:1)-0.31","as":"x1"},{"calculate":"(datum.group==='Fallers'?0:1)+0.31","as":"x2"}],
"mark":{"type":"rule","color":"#555555","strokeWidth":1.5},
"encoding":{"x":{"field":"x1","type":"quantitative"},"x2":{"field":"x2"},"y":{"field":"mean","type":"quantitative"}}}
]},
{"width":135,"height":263,"title":{"text":["Cruising","experience"]},"layer":[
{"transform":[{"filter":"datum.cliff==='Real' && datum.measure==='Cruising'"}],"mark":{"type":"circle","opacity":1,"size":28,"strokeWidth":1},
"encoding":{"x":{"field":"xp","type":"quantitative","title":null,"scale":{"domain":[-0.63,1.63]}},
"y":{"field":"value","type":"quantitative","scale":{"domain":[0,8],"nice":false},"axis":{"values":[0,2,4,6,8],"title":null}},
"fill":{"field":"group","type":"nominal","scale":{"domain":["Fallers","Avoiders"],"range":["#e5e500","#000000"]},"legend":{"title":null,"orient":"none","legendX":362,"legendY":637}},
"stroke":{"condition":{"test":"datum.group==='Fallers'","value":"#3a3a00"},"value":"#000000"}}},
{"transform":[{"filter":"datum.cliff==='Real' && datum.measure==='Cruising'"},{"aggregate":[{"op":"mean","field":"value","as":"mean"}],"groupby":["group"]},{"calculate":"(datum.group==='Fallers'?0:1)-0.31","as":"x1"},{"calculate":"(datum.group==='Fallers'?0:1)+0.31","as":"x2"}],
"mark":{"type":"rule","color":"#555555","strokeWidth":1.5},
"encoding":{"x":{"field":"x1","type":"quantitative"},"x2":{"field":"x2"},"y":{"field":"mean","type":"quantitative"}}}
]},
{"width":135,"height":263,"title":{"text":["Walking","experience"]},"layer":[
{"transform":[{"filter":"datum.cliff==='Real' && datum.measure==='Walking'"}],"mark":{"type":"circle","opacity":1,"size":28,"strokeWidth":1},
"encoding":{"x":{"field":"xp","type":"quantitative","title":null,"scale":{"domain":[-0.63,1.63]}},
"y":{"field":"value","type":"quantitative","scale":{"domain":[0,8],"nice":false},"axis":{"values":[0,2,4,6,8],"title":null}},
"fill":{"field":"group","type":"nominal","scale":{"domain":["Fallers","Avoiders"],"range":["#e5e500","#000000"]},"legend":{"title":null,"orient":"none","legendX":362,"legendY":637}},
"stroke":{"condition":{"test":"datum.group==='Fallers'","value":"#3a3a00"},"value":"#000000"}}},
{"transform":[{"filter":"datum.cliff==='Real' && datum.measure==='Walking'"},{"aggregate":[{"op":"mean","field":"value","as":"mean"}],"groupby":["group"]},{"calculate":"(datum.group==='Fallers'?0:1)-0.31","as":"x1"},{"calculate":"(datum.group==='Fallers'?0:1)+0.31","as":"x2"}],
"mark":{"type":"rule","color":"#555555","strokeWidth":1.5},
"encoding":{"x":{"field":"x1","type":"quantitative"},"x2":{"field":"x2"},"y":{"field":"mean","type":"quantitative"}}}
]},
{"width":135,"height":263,"title":{"text":["Total Locomotor","experience"]},"layer":[
{"transform":[{"filter":"datum.cliff==='Real' && datum.measure==='Total'"}],"mark":{"type":"circle","opacity":1,"size":28,"strokeWidth":1},
"encoding":{"x":{"field":"xp","type":"quantitative","title":null,"scale":{"domain":[-0.63,1.63]}},
"y":{"field":"value","type":"quantitative","scale":{"domain":[2,14],"nice":false,"zero":false},"axis":{"values":[2,4,6,8,10,12,14],"title":null}},
"fill":{"field":"group","type":"nominal","scale":{"domain":["Fallers","Avoiders"],"range":["#e5e500","#000000"]},"legend":{"title":null,"orient":"none","legendX":362,"legendY":637}},
"stroke":{"condition":{"test":"datum.group==='Fallers'","value":"#3a3a00"},"value":"#000000"}}},
{"transform":[{"filter":"datum.cliff==='Real' && datum.measure==='Total'"},{"aggregate":[{"op":"mean","field":"value","as":"mean"}],"groupby":["group"]},{"calculate":"(datum.group==='Fallers'?0:1)-0.31","as":"x1"},{"calculate":"(datum.group==='Fallers'?0:1)+0.31","as":"x2"}],
"mark":{"type":"rule","color":"#555555","strokeWidth":1.5},
"encoding":{"x":{"field":"x1","type":"quantitative"},"x2":{"field":"x2"},"y":{"field":"mean","type":"quantitative"}}}
]},
{"width":135,"height":263,"layer":[
{"transform":[{"filter":"datum.cliff==='Water' && datum.measure==='Age'"}],"mark":{"type":"circle","opacity":1,"size":28,"strokeWidth":1},
"encoding":{"x":{"field":"xp","type":"quantitative","title":null,"scale":{"domain":[-0.63,1.63]}},
"y":{"field":"value","type":"quantitative","scale":{"domain":[10,20],"nice":false,"zero":false},"axis":{"values":[10,12,14,16,18,20],"title":"Water Cliff"}},
"fill":{"field":"group","type":"nominal","scale":{"domain":["Fallers","Avoiders"],"range":["#e5e500","#000000"]},"legend":{"title":null,"orient":"none","legendX":362,"legendY":637}},
"stroke":{"condition":{"test":"datum.group==='Fallers'","value":"#3a3a00"},"value":"#000000"}}},
{"transform":[{"filter":"datum.cliff==='Water' && datum.measure==='Age'"},{"aggregate":[{"op":"mean","field":"value","as":"mean"}],"groupby":["group"]},{"calculate":"(datum.group==='Fallers'?0:1)-0.31","as":"x1"},{"calculate":"(datum.group==='Fallers'?0:1)+0.31","as":"x2"}],
"mark":{"type":"rule","color":"#555555","strokeWidth":1.5},
"encoding":{"x":{"field":"x1","type":"quantitative"},"x2":{"field":"x2"},"y":{"field":"mean","type":"quantitative"}}}
]},
{"width":135,"height":263,"layer":[
{"transform":[{"filter":"datum.cliff==='Water' && datum.measure==='Belly'"}],"mark":{"type":"circle","opacity":1,"size":28,"strokeWidth":1},
"encoding":{"x":{"field":"xp","type":"quantitative","title":null,"scale":{"domain":[-0.63,1.63]}},
"y":{"field":"value","type":"quantitative","scale":{"domain":[0,8],"nice":false},"axis":{"values":[0,2,4,6,8],"title":null}},
"fill":{"field":"group","type":"nominal","scale":{"domain":["Fallers","Avoiders"],"range":["#e5e500","#000000"]},"legend":{"title":null,"orient":"none","legendX":362,"legendY":637}},
"stroke":{"condition":{"test":"datum.group==='Fallers'","value":"#3a3a00"},"value":"#000000"}}},
{"transform":[{"filter":"datum.cliff==='Water' && datum.measure==='Belly'"},{"aggregate":[{"op":"mean","field":"value","as":"mean"}],"groupby":["group"]},{"calculate":"(datum.group==='Fallers'?0:1)-0.31","as":"x1"},{"calculate":"(datum.group==='Fallers'?0:1)+0.31","as":"x2"}],
"mark":{"type":"rule","color":"#555555","strokeWidth":1.5},
"encoding":{"x":{"field":"x1","type":"quantitative"},"x2":{"field":"x2"},"y":{"field":"mean","type":"quantitative"}}}
]},
{"width":135,"height":263,"layer":[
{"transform":[{"filter":"datum.cliff==='Water' && datum.measure==='Crawling'"}],"mark":{"type":"circle","opacity":1,"size":28,"strokeWidth":1},
"encoding":{"x":{"field":"xp","type":"quantitative","title":null,"scale":{"domain":[-0.63,1.63]}},
"y":{"field":"value","type":"quantitative","scale":{"domain":[0,8],"nice":false},"axis":{"values":[0,2,4,6,8],"title":null}},
"fill":{"field":"group","type":"nominal","scale":{"domain":["Fallers","Avoiders"],"range":["#e5e500","#000000"]},"legend":{"title":null,"orient":"none","legendX":362,"legendY":637}},
"stroke":{"condition":{"test":"datum.group==='Fallers'","value":"#3a3a00"},"value":"#000000"}}},
{"transform":[{"filter":"datum.cliff==='Water' && datum.measure==='Crawling'"},{"aggregate":[{"op":"mean","field":"value","as":"mean"}],"groupby":["group"]},{"calculate":"(datum.group==='Fallers'?0:1)-0.31","as":"x1"},{"calculate":"(datum.group==='Fallers'?0:1)+0.31","as":"x2"}],
"mark":{"type":"rule","color":"#555555","strokeWidth":1.5},
"encoding":{"x":{"field":"x1","type":"quantitative"},"x2":{"field":"x2"},"y":{"field":"mean","type":"quantitative"}}}
]},
{"width":135,"height":263,"layer":[
{"transform":[{"filter":"datum.cliff==='Water' && datum.measure==='Cruising'"}],"mark":{"type":"circle","opacity":1,"size":28,"strokeWidth":1},
"encoding":{"x":{"field":"xp","type":"quantitative","title":null,"scale":{"domain":[-0.63,1.63]}},
"y":{"field":"value","type":"quantitative","scale":{"domain":[0,8],"nice":false},"axis":{"values":[0,2,4,6,8],"title":null}},
"fill":{"field":"group","type":"nominal","scale":{"domain":["Fallers","Avoiders"],"range":["#e5e500","#000000"]},"legend":{"title":null,"orient":"none","legendX":362,"legendY":637}},
"stroke":{"condition":{"test":"datum.group==='Fallers'","value":"#3a3a00"},"value":"#000000"}}},
{"transform":[{"filter":"datum.cliff==='Water' && datum.measure==='Cruising'"},{"aggregate":[{"op":"mean","field":"value","as":"mean"}],"groupby":["group"]},{"calculate":"(datum.group==='Fallers'?0:1)-0.31","as":"x1"},{"calculate":"(datum.group==='Fallers'?0:1)+0.31","as":"x2"}],
"mark":{"type":"rule","color":"#555555","strokeWidth":1.5},
"encoding":{"x":{"field":"x1","type":"quantitative"},"x2":{"field":"x2"},"y":{"field":"mean","type":"quantitative"}}}
]},
{"width":135,"height":263,"layer":[
{"transform":[{"filter":"datum.cliff==='Water' && datum.measure==='Walking'"}],"mark":{"type":"circle","opacity":1,"size":28,"strokeWidth":1},
"encoding":{"x":{"field":"xp","type":"quantitative","title":null,"scale":{"domain":[-0.63,1.63]}},
"y":{"field":"value","type":"quantitative","scale":{"domain":[0,8],"nice":false},"axis":{"values":[0,2,4,6,8],"title":null}},
"fill":{"field":"group","type":"nominal","scale":{"domain":["Fallers","Avoiders"],"range":["#e5e500","#000000"]},"legend":{"title":null,"orient":"none","legendX":362,"legendY":637}},
"stroke":{"condition":{"test":"datum.group==='Fallers'","value":"#3a3a00"},"value":"#000000"}}},
{"transform":[{"filter":"datum.cliff==='Water' && datum.measure==='Walking'"},{"aggregate":[{"op":"mean","field":"value","as":"mean"}],"groupby":["group"]},{"calculate":"(datum.group==='Fallers'?0:1)-0.31","as":"x1"},{"calculate":"(datum.group==='Fallers'?0:1)+0.31","as":"x2"}],
"mark":{"type":"rule","color":"#555555","strokeWidth":1.5},
"encoding":{"x":{"field":"x1","type":"quantitative"},"x2":{"field":"x2"},"y":{"field":"mean","type":"quantitative"}}}
]},
{"width":135,"height":263,"layer":[
{"transform":[{"filter":"datum.cliff==='Water' && datum.measure==='Total'"}],"mark":{"type":"circle","opacity":1,"size":28,"strokeWidth":1},
"encoding":{"x":{"field":"xp","type":"quantitative","title":null,"scale":{"domain":[-0.63,1.63]}},
"y":{"field":"value","type":"quantitative","scale":{"domain":[2,14],"nice":false,"zero":false},"axis":{"values":[2,4,6,8,10,12,14],"title":null}},
"fill":{"field":"group","type":"nominal","scale":{"domain":["Fallers","Avoiders"],"range":["#e5e500","#000000"]},"legend":{"title":null,"orient":"none","legendX":362,"legendY":637}},
"stroke":{"condition":{"test":"datum.group==='Fallers'","value":"#3a3a00"},"value":"#000000"}}},
{"transform":[{"filter":"datum.cliff==='Water' && datum.measure==='Total'"},{"aggregate":[{"op":"mean","field":"value","as":"mean"}],"groupby":["group"]},{"calculate":"(datum.group==='Fallers'?0:1)-0.31","as":"x1"},{"calculate":"(datum.group==='Fallers'?0:1)+0.31","as":"x2"}],
"mark":{"type":"rule","color":"#555555","strokeWidth":1.5},
"encoding":{"x":{"field":"x1","type":"quantitative"},"x2":{"field":"x2"},"y":{"field":"mean","type":"quantitative"}}}
]}
],
"config":{
"view":{"stroke":null},
"font":"Liberation Sans",
"axisY":{"domainColor":"#000000","domainWidth":2,"tickColor":"#000000","tickWidth":2,"tickSize":6,"labelFontSize":15,"labelFontWeight":"bold","labelColor":"#222222","labelPadding":2,"grid":false,"titleFontSize":15,"titleFontWeight":"bold","titleColor":"#000000","titlePadding":30},
"axisX":{"domainColor":"#000000","domainWidth":2,"ticks":false,"labels":false,"grid":false,"minExtent":0,"maxExtent":0},
"title":{"fontSize":18,"fontWeight":"bold","color":"#000000","offset":-2,"lineHeight":23},
"legend":{"direction":"horizontal","labelFontSize":19,"labelColor":"#222222","symbolSize":50,"columnPadding":38,"labelOffset":10,"symbolStrokeColor":"#3a3a00","symbolStrokeWidth":1}
}
}
